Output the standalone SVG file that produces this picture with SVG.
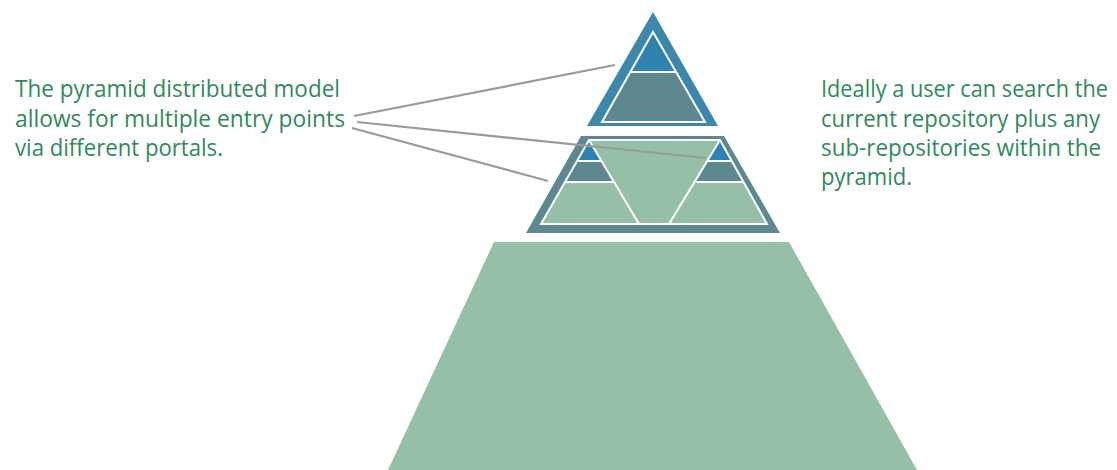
<svg xmlns="http://www.w3.org/2000/svg" width="1117" height="470" viewBox="0 0 1117 470">
<style>
.t{font-family:"Open Sans","Liberation Sans",sans-serif;font-size:23px;fill:#2f8a5a}
.w{stroke:#ffffff;stroke-width:2;fill:none}
.c{stroke:#9a9a9a;stroke-width:2.2;fill:none}
</style>
<rect width="1117" height="470" fill="#ffffff"/>
<g id="base">
<polygon points="494,242 789,242 917,470 388,470" fill="#96bfa8"/>
</g>
<g id="middle">
<polygon points="581,136 724,136 780,233 526,233" fill="#5e8890"/>
<polygon points="589,140 720,140 767,224 541,224" fill="#96bfa8"/>
<polygon points="589,140 601,161 577,161" fill="#2f83b0"/>
<polygon points="577,161 601,161 613,182 565,182" fill="#5e8890"/>
<polygon points="720,140 732,161 708,161" fill="#2f83b0"/>
<polygon points="708,161 732,161 744,182 696,182" fill="#5e8890"/>
<polygon points="589,140 720,140 767,224 541,224" class="w"/>
<polyline points="589,140 639,224" class="w"/>
<polyline points="720,140 669,224" class="w"/>
<line x1="577" y1="161" x2="601" y2="161" class="w"/>
<line x1="565" y1="182" x2="613" y2="182" class="w"/>
<line x1="708" y1="161" x2="732" y2="161" class="w"/>
<line x1="696" y1="182" x2="744" y2="182" class="w"/>
</g>
<g id="top">
<polygon points="653,12 718,126 587,126" fill="#3d87ab"/>
<polygon points="653,32 676,72 630,72" fill="#2f83b0"/>
<polygon points="630,72 676,72 705,122 602,122" fill="#5e8890"/>
<polygon points="653,32 705,122 602,122" class="w"/>
<line x1="630" y1="72" x2="676" y2="72" class="w"/>
</g>
<g id="connectors">
<line x1="354" y1="116" x2="615" y2="65" class="c"/>
<line x1="357" y1="122" x2="706" y2="158" class="c"/>
<line x1="352" y1="128" x2="548" y2="181" class="c"/>
</g>
<g id="left-text">
<text class="t" x="15" y="97" textLength="325" lengthAdjust="spacingAndGlyphs">The pyramid distributed model</text>
<text class="t" x="15" y="127" textLength="330" lengthAdjust="spacingAndGlyphs">allows for multiple entry points</text>
<text class="t" x="15" y="156" textLength="208" lengthAdjust="spacingAndGlyphs">via different portals.</text>
</g>
<g id="right-text">
<text class="t" x="821" y="97" textLength="287" lengthAdjust="spacingAndGlyphs">Ideally a user can search the</text>
<text class="t" x="821" y="127" textLength="279" lengthAdjust="spacingAndGlyphs">current repository plus any</text>
<text class="t" x="821" y="156" textLength="280" lengthAdjust="spacingAndGlyphs">sub-repositories within the</text>
<text class="t" x="821" y="185" textLength="91" lengthAdjust="spacingAndGlyphs">pyramid.</text>
</g>
</svg>
